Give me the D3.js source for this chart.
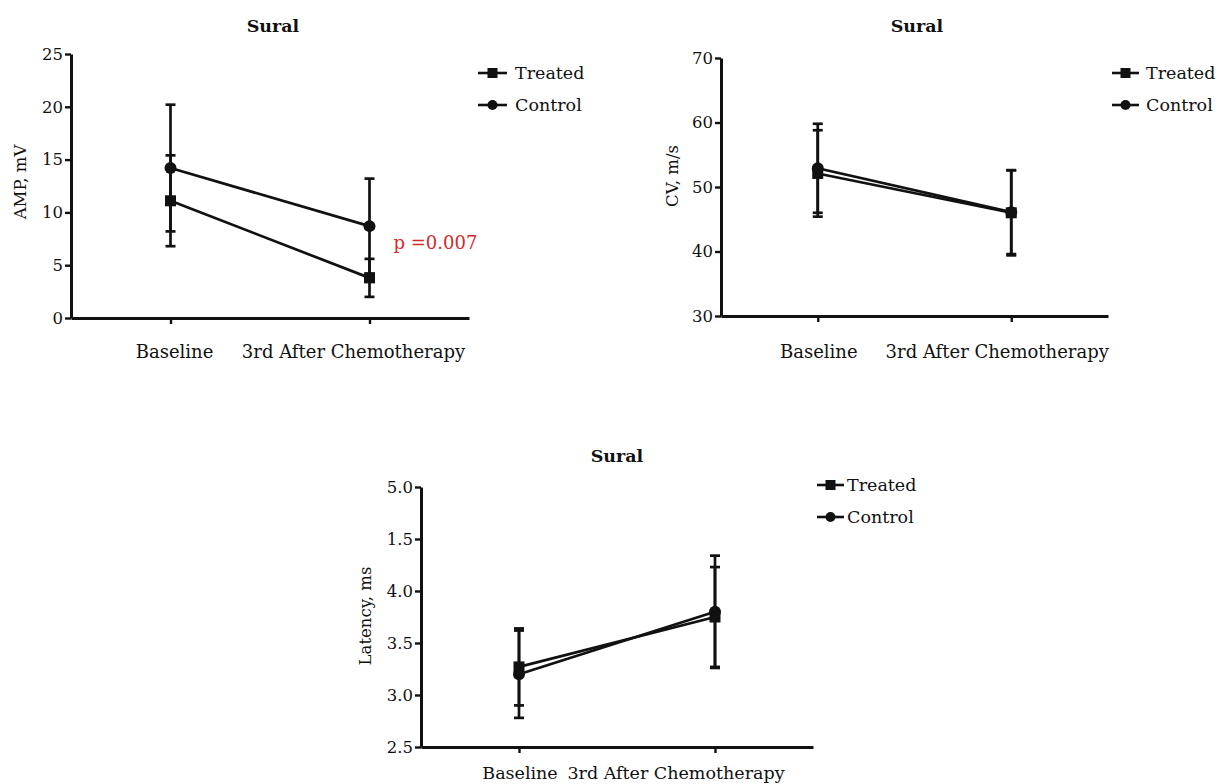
<!DOCTYPE html>
<html>
<head>
<meta charset="utf-8">
<script src="https://cdn.jsdelivr.net/npm/d3@7"></script>
<style>
  body { margin: 0; background: #fff; }
  svg text { font-family: "DejaVu Serif", serif; fill: #111; }
</style>
</head>
<body>
<svg id="chart" width="1222" height="784"></svg>
<script>
// categories on the x axis, shared by all three panels
const categories = ["Baseline", "3rd After Chemotherapy"];
const groups = ["Treated", "Control"];

// sural amplitude (mV), mean and error
const ampTreated = [11.1, 3.8];
const ampTreatedErr = [4.3, 1.8];
const ampControl = [14.2, 8.7];
const ampControlErr = [6.0, 4.5];

// conduction velocity (m/s)
const cvTreated = [52.1, 46.0];
const cvTreatedErr = [6.7, 6.6];
const cvControl = [52.9, 46.1];
const cvControlErr = [6.9, 6.5];

// latency (ms)
const latTreated = [3.27, 3.75];
const latTreatedErr = [0.37, 0.48];
const latControl = [3.20, 3.80];
const latControlErr = [0.42, 0.54];

// tick values and their printed labels (the original prints 1.5 where 4.5 sits)
const ampTicks = [0, 5, 10, 15, 20, 25];
const cvTicks = [30, 40, 50, 60, 70];
const latTicks = [2.5, 3.0, 3.5, 4.0, 4.5, 5.0];
const latTickLabels = ["2.5", "3.0", "3.5", "4.0", "1.5", "5.0"];

const svg = d3.select("#chart");

/**
 * Draws one panel: axes, the two series with error bars, legend and labels.
 */
function drawPanel(cfg) {
  const g = svg.append("g");

  const x = d3.scalePoint()
    .domain(categories)
    .range([cfg.left, cfg.right])
    .padding(0.5);

  const y = d3.scaleLinear()
    .domain(cfg.yDomain)
    .range([cfg.bottom, cfg.top]);

  // y axis
  const yAxis = g.append("g")
    .attr("transform", `translate(${cfg.left},0)`)
    .call(d3.axisLeft(y)
      .tickValues(cfg.yTicks)
      .tickSize(6)
      .tickSizeOuter(0)
      .tickPadding(2)
      .tickFormat((d, i) => cfg.yTickLabels ? cfg.yTickLabels[i] : d3.format("d")(d)));

  // x axis
  const xAxis = g.append("g")
    .attr("transform", `translate(0,${cfg.bottom})`)
    .call(d3.axisBottom(x).tickSize(6).tickSizeOuter(0).tickPadding(0).tickFormat(""));

  [yAxis, xAxis].forEach(a => {
    a.select(".domain").attr("stroke", "#111").attr("stroke-width", 3);
    a.selectAll(".tick line").attr("stroke", "#111").attr("stroke-width", 2.4);
  });
  yAxis.selectAll(".tick text")
    .style("font-size", "16.5px")
    .attr("fill", "#111");

  // category labels below the axis
  g.selectAll("text.cat").data(categories).enter().append("text")
    .attr("class", "cat")
    .attr("x", (d, i) => x(d) + cfg.labelShift[i])
    .attr("y", cfg.labelY)
    .attr("text-anchor", "middle")
    .style("font-size", cfg.labelSize + "px")
    .text(d => d);

  const series = [
    {name: "Treated", mean: cfg.treated, err: cfg.treatedErr, shape: "square"},
    {name: "Control", mean: cfg.control, err: cfg.controlErr, shape: "circle"}
  ];

  const line = d3.line().x((d, i) => x(categories[i])).y(d => y(d));

  series.forEach(s => {
    g.append("path")
      .datum(s.mean)
      .attr("fill", "none")
      .attr("stroke", "#111")
      .attr("stroke-width", 2.7)
      .attr("d", line);

    const bars = s.mean.map((m, i) => ({cat: categories[i], lo: m - s.err[i], hi: m + s.err[i]}));
    g.selectAll(null).data(bars).enter().append("line")
      .attr("x1", d => x(d.cat)).attr("x2", d => x(d.cat))
      .attr("y1", d => y(d.lo)).attr("y2", d => y(d.hi))
      .attr("stroke", "#111").attr("stroke-width", 2.7);
    ["lo", "hi"].forEach(k => {
      g.selectAll(null).data(bars).enter().append("line")
        .attr("x1", d => x(d.cat) - 5).attr("x2", d => x(d.cat) + 5)
        .attr("y1", d => y(d[k])).attr("y2", d => y(d[k]))
        .attr("stroke", "#111").attr("stroke-width", 2.7);
    });
  });

  series.forEach(s => {
    const pts = s.mean.map((m, i) => ({cat: categories[i], v: m}));
    if (s.shape === "square") {
      g.selectAll(null).data(pts).enter().append("rect")
        .attr("x", d => x(d.cat) - 5.5).attr("y", d => y(d.v) - 5.5)
        .attr("width", 11).attr("height", 11)
        .attr("fill", "#111");
    } else {
      g.selectAll(null).data(pts).enter().append("circle")
        .attr("cx", d => x(d.cat)).attr("cy", d => y(d.v))
        .attr("r", 6)
        .attr("fill", "#111");
    }
  });

  // title
  g.append("text")
    .attr("x", cfg.titleX).attr("y", cfg.titleY)
    .attr("text-anchor", "middle")
    .style("font-size", "17.5px").style("font-weight", "bold")
    .text("Sural");

  // y label
  g.append("text")
    .attr("transform", `translate(${cfg.yLabelX},${cfg.yLabelY}) rotate(-90)`)
    .attr("text-anchor", "middle")
    .attr("dy", "0.35em")
    .style("font-size", "16.5px")
    .text(cfg.yLabel);

  // legend
  const leg = g.selectAll("g.leg").data(series).enter().append("g")
    .attr("class", "leg")
    .attr("transform", (d, i) => `translate(${cfg.legendX},${cfg.legendY + i * 32})`);
  leg.append("line")
    .attr("x1", 0).attr("x2", cfg.legendLine)
    .attr("stroke", "#111").attr("stroke-width", 2.6);
  leg.filter(d => d.shape === "square").append("rect")
    .attr("x", cfg.legendLine / 2 - 5).attr("y", -5).attr("width", 10).attr("height", 10)
    .attr("fill", "#111");
  leg.filter(d => d.shape === "circle").append("circle")
    .attr("cx", cfg.legendLine / 2).attr("r", 5)
    .attr("fill", "#111");
  leg.append("text")
    .attr("x", cfg.legendLine + cfg.legendGap)
    .attr("dy", "0.35em")
    .style("font-size", "17.5px")
    .text(d => d.name);

  return {g, x, y};
}

const amp = drawPanel({
  left: 71, right: 469, top: 54, bottom: 318,
  yDomain: [0, 25], yTicks: ampTicks,
  treated: ampTreated, treatedErr: ampTreatedErr,
  control: ampControl, controlErr: ampControlErr,
  yLabel: "AMP, mV", yLabelX: 20, yLabelY: 182,
  titleX: 273, titleY: 32,
  labelY: 358, labelSize: 18, labelShift: [4, -16],
  legendX: 478, legendY: 73, legendLine: 29, legendGap: 8
});

// significance note beside the last time point
amp.g.append("text")
  .attr("x", amp.x(categories[1]) + 24)
  .attr("y", amp.y(6.5))
  .style("font-size", "18px")
  .style("fill", "#d42a2a")
  .text("p =0.007");

drawPanel({
  left: 721, right: 1108, top: 58, bottom: 316,
  yDomain: [30, 70], yTicks: cvTicks,
  treated: cvTreated, treatedErr: cvTreatedErr,
  control: cvControl, controlErr: cvControlErr,
  yLabel: "CV, m/s", yLabelX: 672, yLabelY: 176,
  titleX: 917, titleY: 32,
  labelY: 358, labelSize: 18, labelShift: [1, -14],
  legendX: 1112, legendY: 73, legendLine: 27, legendGap: 7
});

drawPanel({
  left: 421, right: 813, top: 487, bottom: 747,
  yDomain: [2.5, 5.0], yTicks: latTicks, yTickLabels: latTickLabels,
  treated: latTreated, treatedErr: latTreatedErr,
  control: latControl, controlErr: latControlErr,
  yLabel: "Latency, ms", yLabelX: 365, yLabelY: 616,
  titleX: 617, titleY: 462,
  labelY: 779, labelSize: 17.5, labelShift: [1, -39],
  legendX: 817, legendY: 485, legendLine: 27, legendGap: 3
});
</script>
</body>
</html>
